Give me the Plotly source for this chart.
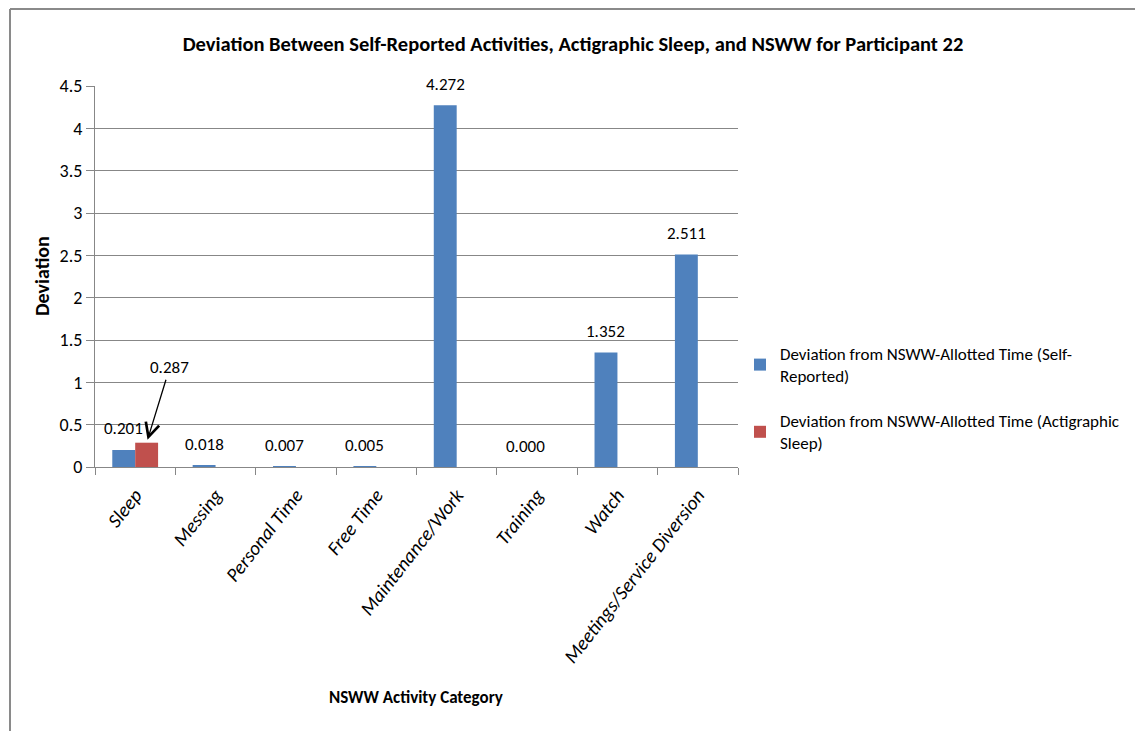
import plotly.graph_objects as go

categories = ["Sleep", "Messing", "Personal Time", "Free Time", "Maintenance/Work",
              "Training", "Watch", "Meetings/Service Diversion"]
self_reported = [0.201, 0.018, 0.007, 0.005, 4.272, 0.000, 1.352, 2.511]
actigraphic = [0.287, None, None, None, None, None, None, None]
series_names = ["Deviation from NSWW-Allotted Time (Self-<br>Reported)",
                "Deviation from NSWW-Allotted Time (Actigraphic<br>Sleep)"]
y_ticks = [0, 0.5, 1, 1.5, 2, 2.5, 3, 3.5, 4, 4.5]
y_tick_text = ["0", "0.5", "1", "1.5", "2", "2.5", "3", "3.5", "4", "4.5"]

FONT = "Carlito, Calibri, Lato, sans-serif"
BLUE = "#4F81BD"
RED = "#C0504D"
GRID = "#878787"

W, H = 1135, 731
L, R, T, B = 95, 397, 86, 264
pw, ph = W - L - R, H - T - B
BARGAP = 0.43


def px(xpix):
    return (xpix - L) / pw


def py(ypix):
    return (H - B - ypix) / ph


fig = go.Figure()
fig.add_trace(go.Bar(x=categories, y=self_reported, name=series_names[0], legendgroup="a",
                     marker=dict(color=BLUE, line=dict(width=0))))
fig.add_trace(go.Bar(x=categories, y=actigraphic, name=series_names[1], legendgroup="b",
                     marker=dict(color=RED, line=dict(width=0))))

bar_w = (1 - BARGAP) / 2
ann = []
for i, v in enumerate(self_reported):
    ann.append(dict(x=i - bar_w / 2, y=v, xref="x", yref="y", text=f"{v:.3f}",
                    showarrow=False, xanchor="center", yanchor="middle", yshift=21,
                    font=dict(family=FONT, size=17, color="#000000")))
for i, v in enumerate(actigraphic):
    if v is not None:
        ann.append(dict(x=i + bar_w / 2, y=v, xref="x", yref="y", text=f"{v:.3f}",
                        showarrow=True, ax=23, ay=-75, arrowhead=5, arrowsize=2.1,
                        arrowwidth=1.3, arrowcolor="#000000", standoff=3,
                        font=dict(family=FONT, size=17, color="#000000")))

ann.append(dict(x=px(416), y=py(697), xref="paper", yref="paper",
                xanchor="center", yanchor="middle",
                text="<b>NSWW Activity Category</b>", showarrow=False,
                font=dict(family=FONT, size=17, color="#000000")))
ann.append(dict(x=px(42), y=py(276), xref="paper", yref="paper",
                xanchor="center", yanchor="middle",
                text="<b>Deviation</b>", textangle=-90, showarrow=False,
                font=dict(family=FONT, size=20, color="#000000")))

shapes = [
    dict(type="line", xref="paper", yref="paper", x0=px(10), x1=px(10),
         y0=py(H + 10), y1=py(9), line=dict(color="#8A8A8A", width=2)),
    dict(type="line", xref="paper", yref="paper", x0=px(10), x1=px(W + 10),
         y0=py(9), y1=py(9), line=dict(color="#8A8A8A", width=2)),
]

fig.update_layout(
    width=W, height=H,
    margin=dict(l=L, r=R, t=T, b=B, autoexpand=False),
    paper_bgcolor="white", plot_bgcolor="white",
    barmode="group", bargap=BARGAP, bargroupgap=0,
    font=dict(family=FONT, size=16, color="#000000"),
    title=dict(text="<b>Deviation Between Self-Reported Activities, Actigraphic Sleep, and NSWW for Participant 22</b>",
               x=573 / W, xanchor="center", y=1 - 44 / H, yanchor="middle",
               font=dict(family=FONT, size=20.5, color="#000000")),
    legend=dict(x=px(740), y=py(336), xanchor="left", yanchor="top",
                font=dict(family=FONT, size=17, color="#000000"),
                itemwidth=30, tracegroupgap=20, bgcolor="rgba(0,0,0,0)"),
    annotations=ann,
    shapes=shapes,
    showlegend=True,
)
fig.update_xaxes(type="category", showgrid=False, showline=True, linecolor=GRID, linewidth=1,
                 ticks="outside", tickson="boundaries", ticklen=7, tickcolor=GRID,
                 tickangle=-52, ticklabelstandoff=8,
                 tickfont=dict(family=FONT, size=19.5, style="italic"),
                 range=[-0.5, len(categories) - 0.5], fixedrange=True)
fig.update_yaxes(range=[0, 4.5], tickvals=y_ticks, ticktext=y_tick_text,
                 showgrid=True, gridcolor=GRID, gridwidth=1,
                 showline=True, linecolor=GRID, linewidth=1,
                 ticks="outside", ticklen=8, tickcolor=GRID, zeroline=False,
                 tickfont=dict(family=FONT, size=18))

fig.write_html("out.html", config={"displayModeBar": False},
               post_script=["document.body.style.margin='0';"])
